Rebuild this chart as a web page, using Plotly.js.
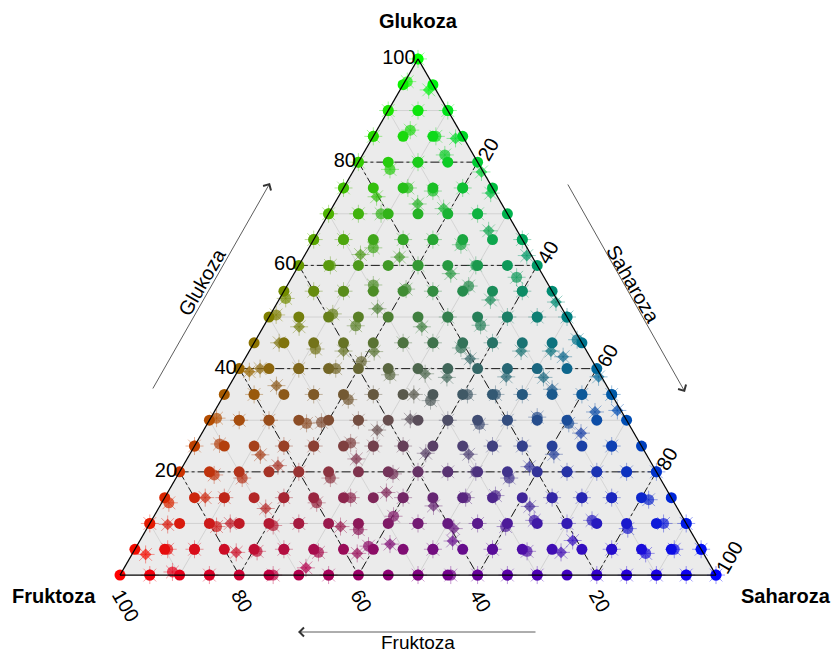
<!DOCTYPE html>
<html>
<head>
<meta charset="utf-8">
<script src="https://cdn.plot.ly/plotly-3.0.1.min.js"></script>
<style>html,body{margin:0;padding:0;background:#fff}#chart{width:834px;height:654px}</style>
</head>
<body>
<div id="chart"></div>
<script>
// Glukoza level of each row of the 5-step composition grid (top row first)
const glukozaLevels = [100,95,90,85,80,75,70,65,60,55,50,45,40,35,30,25,20,15,10,5,0];
// Saharoza values of the points in each row (left to right)
const saharozaRows = [
  [0],
  [0,5],
  [0,5,10],
  [0,5,10,15],
  [0,5,10,15,20],
  [0,5,10,15,20,25],
  [0,5,10,15,20,25,30],
  [0,5,10,15,20,25,30,35],
  [0,5,10,15,20,25,30,35,40],
  [0,5,10,15,20,25,30,35,40,45],
  [0,5,10,15,20,25,30,35,40,45,50],
  [0,5,10,15,20,25,30,35,40,45,50,55],
  [0,5,10,15,20,25,30,35,40,45,50,55,60],
  [0,5,10,15,20,25,30,35,40,45,50,55,60,65],
  [0,5,10,15,20,25,30,35,40,45,50,55,60,65,70],
  [0,5,10,15,20,25,30,35,40,45,50,55,60,65,70,75],
  [0,5,10,15,20,25,30,35,40,45,50,55,60,65,70,75,80],
  [0,5,10,15,20,25,30,35,40,45,50,55,60,65,70,75,80,85],
  [0,5,10,15,20,25,30,35,40,45,50,55,60,65,70,75,80,85,90],
  [0,5,10,15,20,25,30,35,40,45,50,55,60,65,70,75,80,85,90,95],
  [0,5,10,15,20,25,30,35,40,45,50,55,60,65,70,75,80,85,90,95,100]
];
// jittered copy of each point: Glukoza offset
const jitterGlukoza = [
  [0],
  [0.6,-1.0],
  [0,0,0],
  [0,1.2,0,-0.4],
  [0,-1.4,0,1.4,-1.9],
  [0,-1.7,0,-0.6,0,-1.0],
  [0,0,0,1.9,1.0,0,1.6],
  [0,0,-1.6,0,0,-1.0,1.7,0],
  [1.0,0,2.1,1.6,0,-1.6,0,-2.3,1.9],
  [-1.4,0,0,1.2,0.4,0,1.0,-1.7,0,-2.1],
  [0.4,-1.9,0.6,-1.7,1.6,-1.9,0,-1.6,0,0,0],
  [1.0,0,-1.2,-1.6,-1.7,0,0,-1.0,0,-1.6,-1.6,0.6],
  [-0.6,0,0,0,1.4,-1.2,-1.0,-1.7,1.9,-1.6,-1.7,2.3,-1.6],
  [0.8,0,1.7,0,-1.0,0,0,-1.2,0,0,0,1.0,0,0],
  [0.4,0,0,-0.6,-0.4,0,-1.9,0.2,0,-0.8,0,0.6,-0.6,1.6,1.9],
  [0,0.4,-1.7,0,0,0.6,0,0,-1.4,-1.6,0,0,-1.6,2.5,0,2.7],
  [0.2,-0.6,-1.2,1.2,0,-1.2,2.5,-0.4,0,0,0,-1.2,1.0,0,0,0,0],
  [-1.0,0,0,-2.1,0,-1.0,0,1.0,0,-1.6,0,0.4,-1.7,0,0,0,-0.4,1.6],
  [0,-0.2,-0.6,0,-0.4,0,-0.6,-1.2,1.4,0,-1.0,0,-0.6,0.6,0,0.6,-1.0,0,0],
  [-1.0,0,0,-0.6,-0.4,0,-0.6,-0.8,0.6,1.0,0,1.6,0,-0.4,-0.6,1.7,0,-0.8,0,0],
  [-0.2,0,0.6,0,-1.4,0,1.4,0,-0.6,-0.6,0,0,0,0,0,-0.6,0,0,0,0,0]
];
// jittered copy of each point: Saharoza offset
const jitterSaharoza = [
  [0],
  [0.4,-0.2],
  [0,0,0],
  [0,0.6,0.5,-1.0],
  [0,1.0,0,-1.2,1.6],
  [0,1.4,0.8,0.3,0,0.2],
  [0,0,-1.2,-1.0,-1.2,0,-0.4],
  [0,0,0.8,0,0,0.2,-1.5,0],
  [-0.2,0.3,-0.7,1.1,0,1.3,-0.3,2.7,-2.7],
  [1.0,0,0,-0.6,0.3,0,0.5,0.5,0,1.7],
  [1.0,1.0,0.4,0.4,-2.6,1.6,0,1.3,0,0,0],
  [-0.2,-0.8,0.9,0.8,1.0,0,0,0.2,0,0.6,0.6,-1.1],
  [2.0,-1.5,0,1.2,-0.2,0.9,1.7,0.7,-2.2,0.6,1.9,-1.8,1.1],
  [-1.6,0,-2.1,0,1.3,0,1.8,0.2,0.8,0.5,0,-0.5,0,0],
  [1.0,0,0,1.6,-1.0,0,-0.9,-1.4,0,0.7,0,-0.3,0.6,-1.1,-2.5],
  [0,-1.0,1.9,0,0,0.9,0,0,-0.5,1.8,0,0,1.1,-1.4,0,-2.0],
  [-1.3,1.1,1.1,0.9,0,0.9,-1.6,1.0,0,0,-0.3,0.9,-1.8,0,0,0,0],
  [1.2,1.8,0,3.0,0,1.0,1.2,1.7,0,0.9,0.5,0.3,2.1,0,0,0,1.4,-0.6],
  [0,-1.9,1.5,-1.5,0.9,0,2.3,0.6,0.2,0,1.5,0,0,-0.8,0,-1.1,0.7,1.2,0],
  [2.3,0.5,0,2.3,0.7,0,1.1,2.7,-1.1,-2.7,0,-2.5,0,1.0,1.8,-2.4,0,1.1,0.5,0],
  [2.3,0,-1.5,0,2.7,0.7,0.5,0,0.3,1.8,0,0.5,0,0,0,-1.4,0,0,0,0,0]
];
// marker kind of the jittered copy: c = circle, d = diamond
const jitterShapeRows = [
  "c","cd","ccc","cccd","ccccd","cdcccd","cccddcc","ccccccdc","ccddcdccd",
  "cccccccdcd","cdccddccccc","cdcddccccddc","ddccccddddddd","ccdcccdccccdcc",
  "ccccccddcccccdd","ccdcccccddccddcd","cccdccdcccccdcccc","cdcdcccdcdccdccccc",
  "cdcdccdcccdcccccccc","dccdcccdcdcdccddcccc","dcccdcdccdcccccdccccc"
];
const tickValues = [10,20,30,40,50,60,70,80,90,100];
const tickLabels = ["","20","","40","","60","","80","","100"];
const majorLevels = [20,40,60,80];

// ---- build point lists ----
const G = [], S = [], F = [], jA = [], jB = [], jC = [], sym = [], sz = [], col = [], rayCol = [];
saharozaRows.forEach((row, r) => {
  row.forEach((s, k) => {
    const g = glukozaLevels[r];
    const f = 100 - g - s;
    G.push(g); S.push(s); F.push(f);
    const a = g + jitterGlukoza[r][k];
    const c = s + jitterSaharoza[r][k];
    jA.push(a); jC.push(c); jB.push(100 - a - c);
    const d = jitterShapeRows[r][k] === 'd';
    sym.push(d ? 'diamond' : 'circle');
    sz.push(d ? 9 : 11);
    const R = Math.round(f * 2.55), Gr = Math.round(g * 2.55), B = Math.round(s * 2.55);
    col.push(`rgb(${R},${Gr},${B})`);
    rayCol.push(`rgba(${R},${Gr},${B},0.4)`);
  });
});

// major dash-dot grid lines
const la = [], lb = [], lc = [];
majorLevels.forEach(v => {
  la.push(v, v, null);         lb.push(100 - v, 0, null);   lc.push(0, 100 - v, null);
  la.push(100 - v, 0, null);   lb.push(v, v, null);         lc.push(0, 100 - v, null);
  la.push(100 - v, 0, null);   lb.push(0, 100 - v, null);   lc.push(v, v, null);
});

const FONT = 'Liberation Sans, Arial, sans-serif';

const traces = [
  {type:'scatterternary', mode:'lines', a:la, b:lb, c:lc, connectgaps:false,
   line:{color:'#1a1a1a', width:1, dash:'dashdot'}, hoverinfo:'skip', cliponaxis:false},
  {type:'scatterternary', mode:'markers', a:jA, b:jB, c:jC,
   marker:{symbol:'asterisk-open', size:15, color:rayCol, line:{color:rayCol, width:1}},
   hoverinfo:'skip', cliponaxis:false},
  {type:'scatterternary', mode:'markers', a:jA, b:jB, c:jC,
   marker:{symbol:sym, size:sz, color:col, line:{width:0}}, cliponaxis:false},
  {type:'scatterternary', mode:'markers', a:G, b:F, c:S,
   marker:{symbol:'circle', size:11, color:col, line:{width:0}}, cliponaxis:false}
];

function axis(angle) {
  return {
    title:{text:''}, min:0, tickmode:'array', tickvals:tickValues, ticktext:tickLabels,
    ticks:'', ticklen:0, tickangle:angle,
    tickfont:{family:FONT, size:20, color:'#000'},
    showline:true, linecolor:'#000', linewidth:1.2,
    showgrid:true, gridcolor:'#cfcfcf', gridwidth:0.8
  };
}

const W = 596, H = 518, L = 120, T = 58;
const px = x => (x - L) / W;
const py = y => (T + H - y) / H;
const txt = (text, x, y, size, angle) => ({
  text, xref:'paper', yref:'paper', x:px(x), y:py(y), xanchor:'center', yanchor:'middle',
  showarrow:false, textangle:angle || 0, font:{size}
});
const arrow = (x, y, ax, ay) => ({
  text:'', xref:'paper', yref:'paper', x:px(x), y:py(y), ax, ay,
  showarrow:true, arrowhead:4, arrowsize:2.2, arrowwidth:0.8, arrowcolor:'#333'
});

const layout = {
  width:834, height:654,
  margin:{l:120, r:118, t:58, b:78},
  paper_bgcolor:'#fff',
  showlegend:false,
  font:{family:FONT, color:'#000'},
  ternary:{
    sum:100, bgcolor:'#ebebeb',
    aaxis:axis(0), baxis:axis(60), caxis:axis(-60)
  },
  annotations:[
    txt('<b>Glukoza</b>', 418, 21, 20),
    txt('<b>Fruktoza</b>', 54, 596, 20),
    txt('<b>Saharoza</b>', 786, 596, 20),
    arrow(270, 183, -118, 207),
    arrow(685, 392, -118, -209),
    arrow(298, 632, 239, 0),
    txt('Glukoza', 202, 282, 20, -60),
    txt('Saharoza', 633, 284, 20, 60),
    txt('Fruktoza', 418, 642, 19)
  ]
};

Plotly.newPlot('chart', traces, layout, {displayModeBar:false, staticPlot:true});
</script>
</body>
</html>
